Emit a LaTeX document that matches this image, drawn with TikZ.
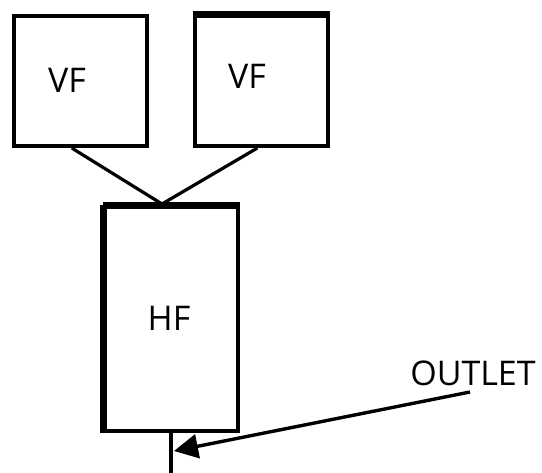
\documentclass[tikz,border=0pt]{standalone}
\usepackage{fontspec}
\setmainfont{Open Sans}
\usetikzlibrary{arrows.meta,calc}
\begin{document}
\begin{tikzpicture}[x=1pt,y=-1pt,
  box/.style={draw=black,line width=4pt,inner sep=0pt,anchor=north west},
  lbl/.style={font=\fontsize{34}{38}\selectfont,inner sep=0pt},
  conn/.style={line width=3.2pt},
  arr/.style={line width=3.4pt,-{Triangle[length=24pt,width=24pt]}}]
\useasboundingbox (0,0) rectangle (542,473);
\node[box,minimum width=133pt,minimum height=130pt] (vf1) at (12,14) {};
\node[box,minimum width=133pt,minimum height=130pt] (vf2) at (193,14) {};
\node[box,minimum width=133pt,minimum height=224pt] (hf) at (103,205) {};
\draw[line width=6pt] (hf.north west) -- (hf.north east);
\draw[line width=5.5pt] (hf.north west) -- (hf.south west);
\draw[line width=5pt] (vf2.north west) -- (vf2.north east);
\node[lbl] (t1) at (67,80) {VF};
\node[lbl] (t2) at (247,76) {VF};
\node[lbl] (t3) at (169,318) {HF};
\node[lbl] (t4) at (473,373) {OUTLET};
\coordinate (j) at (162,204);
\coordinate (a) at ($(vf1.south west)!0.436!(vf1.south east)$);
\coordinate (b) at ($(vf2.south west)!0.47!(vf2.south east)$);
\draw[conn] (a) -- (j);
\draw[conn] (b) -- (j);
\coordinate (o1) at (171,429);
\coordinate (o2) at (171,473);
\draw[conn] (o1) -- (o2);
\coordinate (as) at (470,392);
\coordinate (ae) at (174,451);
\draw[arr] (as) -- (ae);
\end{tikzpicture}
\end{document}
